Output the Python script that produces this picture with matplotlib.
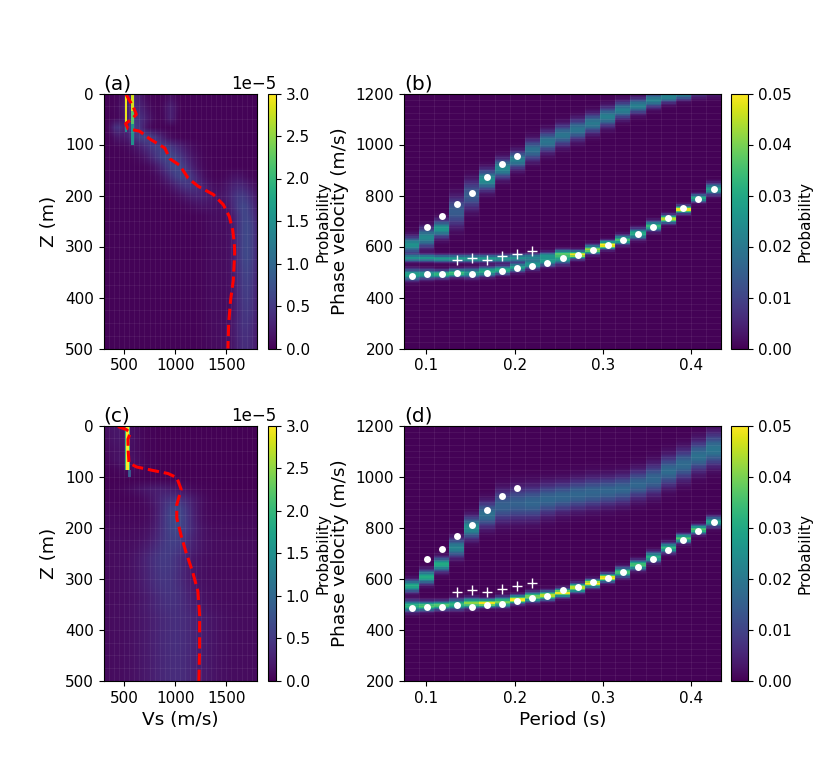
import numpy as np
import matplotlib
matplotlib.use('Agg')
import matplotlib.pyplot as plt

# shared observations, periods are the column centres
period = [0.0833, 0.1004, 0.1175, 0.1346, 0.1517, 0.1688, 0.1859, 0.2030, 0.2201, 0.2372, 0.2543,
          0.2714, 0.2885, 0.3056, 0.3227, 0.3398, 0.3569, 0.3740, 0.3911, 0.4082, 0.4253]
obs_fund = [486, 491, 491, 496, 491, 496, 502, 515, 525, 534, 555, 568, 586, 605, 625, 648, 678, 712, 750, 788, 824]
obs_high_t = period[1:8]
obs_high = [676, 718, 767, 811, 871, 924, 955]
obs_cross_t = period[3:9]
obs_cross = [547, 556, 547, 561, 572, 583]

# panel b ridges
b_fund = [489, 491, 491, 496, 496, 502, 508, 518, 530, 542, 555, 568, 588, 606, 626, 650, 680, 708, 745, 790, 825]
b_fund_amp = [.029, .027, .032, .034, .026, .03, .03, .028, .026, .026, .028, .048, .042, .05, .035, .03, .034, .044, .05, .03, .027]
b_fund_wid = [14, 12, 10, 10, 12, 12, 11, 11, 12, 12, 15, 10, 11, 10, 11, 13, 12, 10, 9, 10, 14]
b_second = [555, 555, 553, 553, 553, 553, 553, 555, 558, 565, 574]
b_second_amp = [.025, .027, .027, .027, .027, .027, .026, .025, .021, .02, .022]
b_high = [607, 635, 669, 737, 802, 861, 906, 939, 978, 1011, 1037, 1059, 1083, 1109, 1135, 1152, 1174, 1187, 1195, 1205, 1215]
b_high_amp = [.025, .023, .026, .014, .014, .024, .023, .021, .018, .019, .019, .019, .02, .021, .021, .021, .022, .022, .02, .009, .007]
b_high_wid = [20, 24, 21, 38, 36, 26, 24, 22, 26, 26, 26, 26, 24, 24, 21, 19, 18, 15, 13, 15, 18]

# panel d ridges
d_fund = [493, 493, 496, 500, 505, 505, 509, 519, 529, 535, 545, 565, 582, 604, 626, 654, 685, 721, 758, 793, 823]
d_fund_amp = [.032, .036, .036, .032, .042, .05, .04, .05, .04, .045, .05, .045, .05, .05, .035, .035, .031, .032, .036, .036, .027]
d_fund_wid = [14, 12, 11, 13, 12, 10, 12, 10, 12, 11, 10, 11, 10, 10, 12, 12, 13, 12, 11, 11, 13]
d_high = [572, 607, 656, 721, 800, 852, 885, 894, 897, 911, 920, 930, 937, 943, 950, 969, 989, 1021, 1047, 1080, 1106]
d_high_amp = [.03, .03, .03, .022, .024, .018, .015, .015, .016, .016, .016, .016, .016, .016, .016, .016, .016, .017, .017, .018, .019]
d_high_wid = [15, 17, 17, 23, 27, 32, 40, 42, 42, 40, 38, 38, 38, 36, 36, 36, 38, 38, 38, 38, 40]

# panel a, Vs mean model and density rows every 20 m
a_z = [0, 12, 25, 41, 51, 59, 69, 74, 89, 107, 128, 141, 166, 182, 198, 218, 241, 267, 293, 312, 365, 405, 451, 500]
a_vs = [516, 549, 588, 621, 572, 516, 539, 654, 752, 899, 949, 1046, 1127, 1225, 1373, 1471, 1529, 1562, 1578, 1582, 1569, 1542, 1523, 1516]
row_z = [0, 20, 40, 60, 80, 100, 120, 140, 160, 180, 200, 220, 240, 260, 280, 300, 320, 340, 360, 380, 400, 420, 440, 460, 480, 500]
a_c1 = [590, 600, 620, 600, 700, 860, 930, 1000, 1060, 1140, 1230, 1300, 1680, 1690, 1690, 1690, 1690, 1690, 1690, 1690, 1690, 1690, 1690, 1680, 1680, 1680]
a_s1 = [70, 85, 85, 70, 120, 150, 135, 115, 115, 125, 135, 130, 85, 85, 85, 85, 85, 85, 85, 85, 85, 85, 88, 90, 92, 92]
a_a1 = [.28, .32, .4, .5, .6, .55, .62, .62, .58, .42, .25, .12, .58, .62, .62, .62, .62, .58, .55, .52, .5, .47, .44, .41, .38, .36]
a_c2 = [950, 950, 950, 430, 430, 1600, 1600, 1600, 1600, 1620, 1640, 1660, 1400, 1400, 1400, 1400, 1400, 1400, 1400, 1400, 1400, 1400, 1400, 1400, 1400, 1400]
a_s2 = [35, 45, 40, 45, 35, 60, 60, 60, 80, 100, 100, 90, 90, 90, 90, 90, 90, 90, 90, 90, 90, 90, 90, 90, 90, 90]
a_a2 = [.1, .22, .22, .38, .1, 0, 0, 0, .12, .3, .48, .58, .07, .07, .06, .06, .06, .06, .06, .06, .06, .06, .06, .06, .06, .06]
# narrow peaks: vs left, vs right, z top, z bottom, value
a_peaks_l = [506, 506, 572, 572, 572]
a_peaks_r = [530, 530, 595, 595, 595]
a_peaks_t = [0, 63, 0, 35, 60]
a_peaks_b = [63, 75, 35, 60, 100]
a_peaks_v = [2.9, 1.4, 2.8, 2.2, 1.5]

# panel c
c_z = [2, 8, 14, 27, 50, 73, 81, 88, 94, 102, 125, 155, 181, 216, 249, 288, 324, 370, 435, 500]
c_vs = [441, 523, 562, 539, 542, 549, 621, 784, 931, 1016, 1059, 1016, 1016, 1059, 1108, 1173, 1222, 1239, 1239, 1232]
c_c1 = [450, 460, 470, 500, 540, 600, 850, 980, 1000, 1000, 1000, 980, 950, 900, 900, 900, 920, 950, 960, 1000, 1000, 1000, 1000, 1000, 1000, 1000]
c_s1 = [130, 130, 130, 120, 100, 60, 190, 150, 120, 120, 130, 140, 160, 160, 160, 160, 170, 170, 190, 210, 210, 210, 210, 210, 210, 210]
c_a1 = [.16, .15, .12, .14, .07, 0, .22, .4, .58, .62, .56, .48, .44, .42, .4, .38, .36, .34, .32, .3, .3, .3, .3, .29, .29, .29]
c_a0 = [.02, .02, .02, .02, .02, .02, .02, .03, .05, .06, .08, .09, .09, .09, .09, .09, .09, .09, .09, .09, .09, .09, .09, .09, .09, .09]
c_peaks_l = [510, 520, 536]
c_peaks_r = [556, 548, 572]
c_peaks_t = [0, 0, 87]
c_peaks_b = [87, 87, 100]
c_peaks_v = [2.0, 3.0, 0.8]

VS_EDGES = np.arange(300, 1801, 10)
V_EDGES = np.arange(200, 1201, 5)
T_EDGES = np.linspace(0.0747, 0.4337, 22)
EPS = 1e-5


def ridge(x, centre, width, amp):
    return amp * np.exp(-0.5 * ((x - centre) / width) ** 2)


def dispersion_image(fund, fund_amp, fund_wid, high, high_amp, high_wid, second=(), second_amp=()):
    v = (V_EDGES[:-1] + V_EDGES[1:]) / 2
    img = np.full((len(v), len(period)), 0.0003)
    for i in range(len(period)):
        img[:, i] += ridge(v, fund[i], fund_wid[i], fund_amp[i])
        img[:, i] += ridge(v, high[i], high_wid[i], high_amp[i])
        if i < len(second):
            img[:, i] += ridge(v, second[i], 9, second_amp[i])
    return img


def vs_image(c1, s1, a1, c2=None, s2=None, a2=None, base=None):
    vs = (VS_EDGES[:-1] + VS_EDGES[1:]) / 2
    img = np.zeros((len(row_z), len(vs)))
    for i in range(len(row_z)):
        img[i] += ridge(vs, c1[i], s1[i], a1[i])
        if c2 is not None:
            img[i] += ridge(vs, c2[i], s2[i], a2[i])
        if base is not None:
            img[i] += base[i]
    return img * EPS


def add_colorbar(fig, mesh, rect, ticks, label_x, fmt_sci=False):
    cax = fig.add_axes(rect)
    cb = fig.colorbar(mesh, cax=cax, ticks=ticks)
    cb.set_label('Probability', fontsize=11)
    cb.ax.yaxis.set_label_coords(label_x, 0.5)
    cb.ax.tick_params(labelsize=11)
    if fmt_sci:
        cb.formatter.set_powerlimits((0, 0))
        cb.update_ticks()
        cb.ax.yaxis.get_offset_text().set_fontsize(12)
    return cb


def plot_vs(fig, rect, cb_rect, img, z, vs, peaks, letter, xlabel=False):
    ax = fig.add_axes(rect)
    mesh = ax.imshow(img, extent=[300, 1800, 500, 0], aspect='auto', cmap='viridis', vmin=0, vmax=3 * EPS,
                     interpolation='bilinear')
    for l, r, t, b, val in zip(*peaks):
        ax.pcolormesh([l, r], [t, b], [[val * EPS]], cmap='viridis', vmin=0, vmax=3 * EPS)
    ax.vlines(np.arange(300, 1800, 50), 0, 500, color='w', alpha=0.07, lw=0.6)
    ax.hlines(np.arange(0, 500, 25), 300, 1800, color='w', alpha=0.07, lw=0.6)
    ax.plot(vs, z, 'r--', lw=2.2)
    ax.set_xlim(300, 1800)
    ax.set_ylim(500, 0)
    ax.set_xticks([500, 1000, 1500])
    ax.set_yticks(range(0, 501, 100))
    ax.tick_params(labelsize=11)
    ax.set_ylabel('Z (m)', fontsize=13.3)
    ax.yaxis.set_label_coords(-0.296, 0.5)
    if xlabel:
        ax.set_xlabel('Vs (m/s)', fontsize=13.3)
    ax.set_title(letter, loc='left', fontsize=14.5, pad=3)
    add_colorbar(fig, mesh, cb_rect, np.arange(0, 3.01, 0.5) * EPS, 5.9, fmt_sci=True)


def plot_disp(fig, rect, cb_rect, img, letter, xlabel=False):
    ax = fig.add_axes(rect)
    mesh = ax.pcolormesh(T_EDGES, V_EDGES, img, cmap='viridis', vmin=0, vmax=0.05)
    ax.vlines(T_EDGES, 200, 1200, color='w', alpha=0.08, lw=0.6)
    ax.hlines(np.arange(200, 1200, 25), 0.0747, 0.4337, color='w', alpha=0.07, lw=0.6)
    ax.plot(period, obs_fund, 'o', color='w', ms=5, mew=0)
    ax.plot(obs_high_t, obs_high, 'o', color='w', ms=5, mew=0)
    ax.plot(obs_cross_t, obs_cross, '+', color='w', ms=7, mew=1)
    ax.set_xlim(0.0747, 0.4337)
    ax.set_ylim(200, 1200)
    ax.set_xticks([0.1, 0.2, 0.3, 0.4])
    ax.set_yticks(range(200, 1201, 200))
    ax.tick_params(labelsize=11)
    ax.set_ylabel('Phase velocity (m/s)', fontsize=13.3)
    ax.yaxis.set_label_coords(-0.175, 0.5)
    if xlabel:
        ax.set_xlabel('Period (s)', fontsize=13.3)
    ax.set_title(letter, loc='left', fontsize=14.5, pad=3)
    add_colorbar(fig, mesh, cb_rect, [0, 0.01, 0.02, 0.03, 0.04, 0.05], 3.94)


def px_rect(left, top, right, bottom, w=830, h=779):
    return [left / w, 1 - bottom / h, (right - left) / w, (bottom - top) / h]


if __name__ == "__main__":
    fig = plt.figure(figsize=(8.3, 7.79), dpi=100, facecolor='white')
    a_peaks = (a_peaks_l, a_peaks_r, a_peaks_t, a_peaks_b, a_peaks_v)
    c_peaks = (c_peaks_l, c_peaks_r, c_peaks_t, c_peaks_b, c_peaks_v)

    plot_vs(fig, px_rect(103.5, 93.5, 257, 348.5), px_rect(268, 93.5, 276, 348.5),
            vs_image(a_c1, a_s1, a_a1, a_c2, a_s2, a_a2, [0.03] * len(row_z)), a_z, a_vs, a_peaks, '(a)')
    plot_vs(fig, px_rect(103.5, 425.5, 257, 681), px_rect(268, 425.5, 276, 681),
            vs_image(c_c1, c_s1, c_a1, base=c_a0), c_z, c_vs, c_peaks, '(c)', xlabel=True)
    plot_disp(fig, px_rect(404, 93.5, 721, 348.5), px_rect(731, 93.5, 748, 348.5),
              dispersion_image(b_fund, b_fund_amp, b_fund_wid, b_high, b_high_amp, b_high_wid, b_second, b_second_amp), '(b)')
    plot_disp(fig, px_rect(404, 425.5, 721, 681), px_rect(731, 425.5, 748, 681),
              dispersion_image(d_fund, d_fund_amp, d_fund_wid, d_high, d_high_amp, d_high_wid), '(d)', xlabel=True)

    fig.savefig('out.png', dpi=100)
